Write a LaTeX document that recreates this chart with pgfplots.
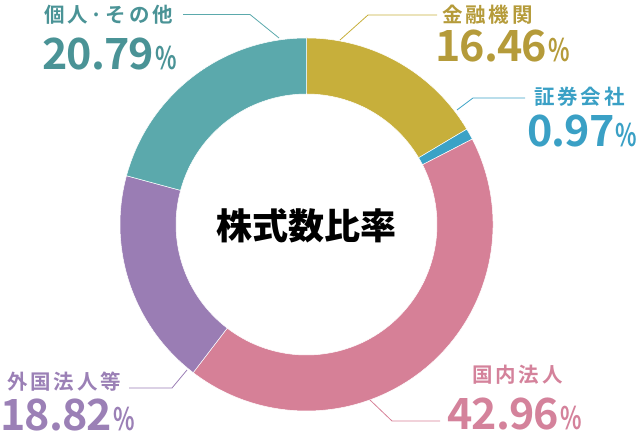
\documentclass[border=0pt]{standalone}
\usepackage{pgfplots}
\usepackage{pgfplotstable}
\pgfplotsset{compat=1.18}
\usetikzlibrary{calc}
\usepackage{fontspec}
\setmainfont{Noto Sans CJK JP}
\newfontfamily\labfont{Noto Sans CJK JP Bold}[LetterSpace=14]
\newfontfamily\numfont{Noto Sans CJK JP Bold}[LetterSpace=-2]

% segment colours, in table order
\definecolor{seg0}{HTML}{C7AF3B}
\definecolor{seg1}{HTML}{3BA2C6}
\definecolor{seg2}{HTML}{D68097}
\definecolor{seg3}{HTML}{9A7DB4}
\definecolor{seg4}{HTML}{5BA9AC}
% label colours
\definecolor{txtgold}{HTML}{B59B3A}
\definecolor{txtblue}{HTML}{3AA0C5}
\definecolor{txtpink}{HTML}{D4829B}
\definecolor{txtpurple}{HTML}{9B80B6}
\definecolor{txtteal}{HTML}{4A9396}

% 株式数比率 (%), clockwise from the top
\pgfplotstableread{
share
16.46
0.97
42.96
18.82
20.79
}\sharetable

\newcommand\num[1]{{\numfont\fontsize{43}{43}\selectfont #1\hspace{1pt}\fontsize{31}{31}\selectfont\scalebox{0.72}[1]{\%}}}
\newcommand\lab[1]{{\labfont\fontsize{20.5}{24}\selectfont #1}}

\begin{document}
\begin{tikzpicture}
\begin{axis}[
    width=636pt, height=435pt, scale only axis,
    xmin=0, xmax=636, ymin=0, ymax=435,
    enlargelimits=false, hide axis, clip=false,
    ]
    \addplot[draw=none] coordinates {(0,0) (636,435)};

    \pgfplotsextra{
        \xdef\cum{0}
        \pgfplotstableforeachcolumnelement{share}\of\sharetable\as\v{
            \pgfmathsetmacro\angA{90-3.6*\cum}
            \pgfmathsetmacro\angB{90-3.6*(\cum+\v)}
            \edef\segcol{seg\pgfplotstablerow}
            \fill[fill=\segcol, draw=white, line width=0.5pt]
                ($(axis cs:306.5,210.5)+(\angA:186.5pt)$)
                arc[start angle=\angA, end angle=\angB, radius=186.5pt]
                -- ($(axis cs:306.5,210.5)+(\angB:130.5pt)$)
                arc[start angle=\angB, end angle=\angA, radius=130.5pt]
                -- cycle;
            \pgfmathsetmacro\tmp{\cum+\v}
            \xdef\cum{\tmp}
        }
    }

    % centre title
    \node[inner sep=0, font=\bfseries\fontsize{36}{36}\selectfont] at (axis cs:306.5,209) {株式数比率};

    % leader lines
    \draw[seg4, line width=0.8pt] (axis cs:183,420.5) -- (axis cs:250,420.5) -- (axis cs:279,397);
    \draw[seg0, line width=0.8pt] (axis cs:340,395) -- (axis cs:368,420) -- (axis cs:437,420);
    \draw[seg1, line width=0.8pt] (axis cs:457,325) -- (axis cs:473,337) -- (axis cs:525,337);
    \draw[seg2, line width=0.8pt] (axis cs:370,35) -- (axis cs:392,14) -- (axis cs:440,14);
    \draw[seg3, line width=0.8pt] (axis cs:129,47) -- (axis cs:172,47) -- (axis cs:187,65);

    % labels and values
    \node[anchor=west, inner sep=0, text=txtteal] at (axis cs:44,420) {\lab{個人·その他}};
    \node[anchor=base west, inner sep=0, text=txtteal] at (axis cs:42,365) {\num{20.79}};
    \node[anchor=west, inner sep=0, text=txtgold] at (axis cs:442,420) {\lab{金融機関}};
    \node[anchor=base west, inner sep=0, text=txtgold] at (axis cs:435,373) {\num{16.46}};
    \node[anchor=west, inner sep=0, text=txtblue] at (axis cs:534,338) {\lab{証券会社}};
    \node[anchor=base west, inner sep=0, text=txtblue] at (axis cs:527,288) {\num{0.97}};
    \node[anchor=west, inner sep=0, text=txtpink] at (axis cs:472,60) {\lab{国内法人}};
    \node[anchor=base west, inner sep=0, text=txtpink] at (axis cs:447,5) {\num{42.96}};
    \node[anchor=west, inner sep=0, text=txtpurple] at (axis cs:7,53) {\lab{外国法人等}};
    \node[anchor=base west, inner sep=0, text=txtpurple] at (axis cs:0,4) {\num{18.82}};
\end{axis}
\pgfresetboundingbox
\path[use as bounding box] (current axis.south west) rectangle (current axis.north east);
\end{tikzpicture}
\end{document}
